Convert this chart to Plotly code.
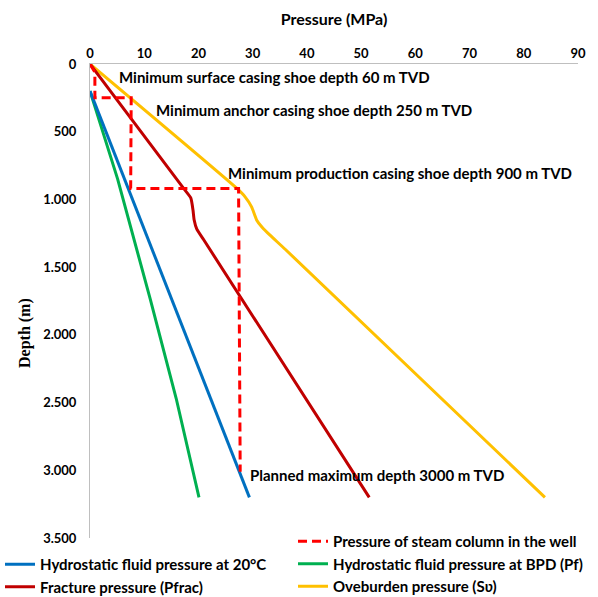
import plotly.graph_objects as go

# ---- data (pressure in MPa, depth in m) ----
hydro20_p = [0, 29.4]
hydro20_d = [200, 3200]

bpd_p = [0, 5.1, 11.1, 15.9, 20.1]
bpd_d = [200, 850, 1735, 2470, 3200]

frac_p = [0, 17.3, 18.6, 19.0, 19.2, 19.7, 21.0, 51.5]
frac_d = [0, 920, 990, 1080, 1150, 1220, 1300, 3200]

over_p = [0, 27.1, 28.6, 29.8, 30.75, 31.7, 33.2, 36.0, 83.9]
over_d = [0, 919, 981, 1055, 1153, 1203, 1264, 1368, 3200]

steam_p = [0, 0.9, 0.9, 7.6, 7.5, 27.4, 27.7]
steam_d = [0, 60, 250, 250, 920, 920, 3010]

x_ticks = [0, 10, 20, 30, 40, 50, 60, 70, 80, 90]
y_ticks = [0, 500, 1000, 1500, 2000, 2500, 3000, 3500]
y_ticktext = ["0", "500", "1.000", "1.500", "2.000", "2.500", "3.000", "3.500"]

notes = [
    ("Minimum surface casing shoe depth 60 m TVD", 5.0, 96),
    ("Minimum anchor casing shoe depth 250 m TVD", 11.8, 340),
    ("Minimum production casing shoe depth 900 m TVD", 25.0, 806),
    ("Planned maximum depth 3000 m TVD", 29.1, 3038),
]

FONT = "Lato"
fig = go.Figure()

fig.add_trace(go.Scatter(x=bpd_p, y=bpd_d, mode="lines", name="Hydrostatic fluid pressure at BPD (Pf)",
                         line=dict(color="#00B050", width=3), legend="legend2", legendrank=2))
fig.add_trace(go.Scatter(x=hydro20_p, y=hydro20_d, mode="lines", name="Hydrostatic fluid pressure at 20°C",
                         line=dict(color="#0070C0", width=3), legend="legend", legendrank=1))
fig.add_trace(go.Scatter(x=over_p, y=over_d, mode="lines", name="Oveburden pressure (S\u028b)",
                         line=dict(color="#FFC000", width=3, shape="spline", smoothing=0.5),
                         legend="legend2", legendrank=3))
fig.add_trace(go.Scatter(x=frac_p, y=frac_d, mode="lines", name="Fracture pressure (Pfrac)",
                         line=dict(color="#C00000", width=3, shape="spline", smoothing=0.5),
                         legend="legend", legendrank=2))
fig.add_trace(go.Scatter(x=steam_p, y=steam_d, mode="lines", name="Pressure of steam column in the well",
                         line=dict(color="#FF0000", width=3, dash="9px,5px"),
                         legend="legend2", legendrank=1))

for txt, xp, yd in notes:
    fig.add_annotation(x=xp, y=yd, text=txt, showarrow=False, xanchor="left", yanchor="middle",
                       font=dict(family=FONT, size=15, color="#000000", weight="bold"))

# plot area: x 90..578 px, y 64..538 px
fig.add_annotation(x=(25 - 90) / 488, y=1 - (333 - 64) / 474, xref="paper", yref="paper",
                   text="Depth (m)", showarrow=False, textangle=-90,
                   xanchor="center", yanchor="middle",
                   font=dict(family="Liberation Serif", size=16, color="#000", weight="bold"))

legend_font = dict(family=FONT, size=15, color="#000000", weight="bold")
leg_y = 1 - (603 - 64) / 474
fig.update_layout(
    width=598, height=597,
    margin=dict(l=90, r=20, t=64, b=59, autoexpand=False),
    paper_bgcolor="white", plot_bgcolor="white",
    xaxis=dict(side="top", range=[0, 90], tickvals=x_ticks, showline=True, linecolor="#BFBFBF",
               linewidth=1, showgrid=False, zeroline=False, ticks="",
               tickfont=dict(family=FONT, size=13, color="#000", weight="bold"),
               title=dict(text="Pressure (MPa)", standoff=15,
                          font=dict(family=FONT, size=16, color="#000", weight="bold"))),
    yaxis=dict(range=[3500, 0], tickvals=y_ticks, ticktext=y_ticktext, showline=True,
               linecolor="#BFBFBF", linewidth=1, showgrid=False, zeroline=False, ticks="",
               ticklabelstandoff=10,
               tickfont=dict(family=FONT, size=13, color="#000", weight="bold")),
    legend=dict(x=(0 - 90) / 488, y=leg_y, xref="paper", yref="paper", xanchor="left", yanchor="bottom",
                font=legend_font, bgcolor="rgba(0,0,0,0)", tracegroupgap=0, itemwidth=30),
    legend2=dict(x=(293 - 90) / 488, y=leg_y, xref="paper", yref="paper", xanchor="left", yanchor="bottom",
                 font=legend_font, bgcolor="rgba(0,0,0,0)", tracegroupgap=0, itemwidth=30),
    showlegend=True,
)

fig.write_html("out.html")
